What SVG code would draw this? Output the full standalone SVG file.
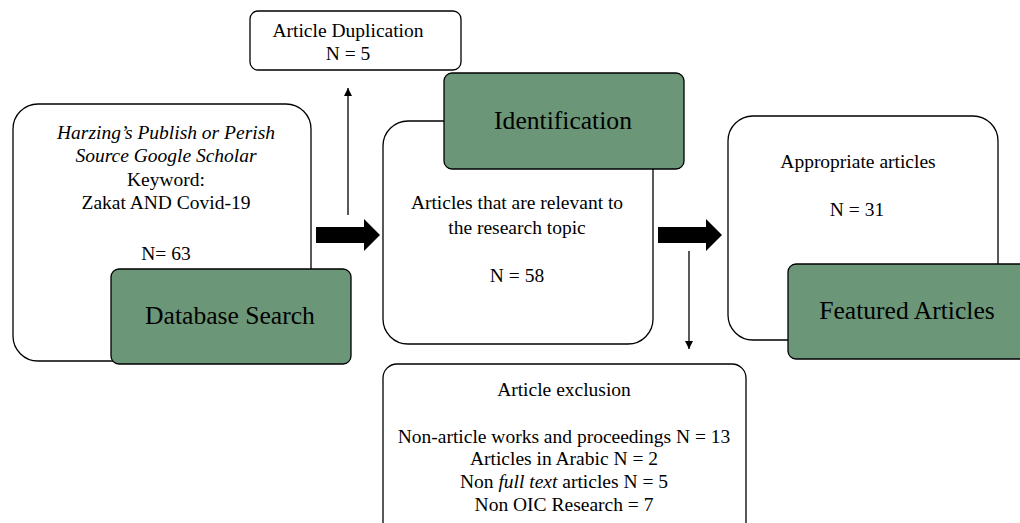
<svg xmlns="http://www.w3.org/2000/svg" width="1020" height="523" viewBox="0 0 1020 523">
<style>
.box{fill:#fff;stroke:#000;stroke-width:1.3}
.green{fill:#6b9677;stroke:#000;stroke-width:1.3}
text{font-family:"Liberation Serif","Times New Roman",serif;fill:#000;text-anchor:middle}
.t{font-size:19.5px}
.big{font-size:25.6px}
.thin{stroke:#000;stroke-width:1.3;fill:none}
</style>
<defs>
<marker id="ah" viewBox="0 0 10 10" refX="10" refY="5" markerWidth="8" markerHeight="8" markerUnits="userSpaceOnUse" orient="auto">
<path d="M0,0 L10,5 L0,10 z" fill="#000"/>
</marker>
</defs>
<g id="connectors">
<line class="thin" x1="348" y1="215" x2="348" y2="88" marker-end="url(#ah)"/>
<line class="thin" x1="689" y1="251" x2="689" y2="349" marker-end="url(#ah)"/>
<path d="M316,227 L364,227 L364,219 L380,235 L364,251 L364,243 L316,243 z" fill="#000"/>
<path d="M658,227 L706,227 L706,219 L722,235 L706,251 L706,243 L658,243 z" fill="#000"/>
</g>
<g id="duplication">
<rect class="box" x="250" y="11" width="211" height="59" rx="8"/>
<text class="t" x="348" y="37">Article Duplication</text>
<text class="t" x="348" y="60">N = 5</text>
</g>
<g id="database">
<rect class="box" x="13" y="104" width="298" height="257" rx="25"/>
<text class="t" x="166" y="139" font-style="italic">Harzing’s Publish or Perish</text>
<text class="t" x="166" y="162" font-style="italic">Source Google Scholar</text>
<text class="t" x="166" y="186">Keyword:</text>
<text class="t" x="166" y="209">Zakat AND Covid-19</text>
<text class="t" x="166" y="260">N= 63</text>
<rect class="green" x="111" y="269" width="240" height="95" rx="8"/>
<text class="big" x="230" y="324">Database Search</text>
</g>
<g id="identification">
<rect class="box" x="383" y="121" width="270" height="223" rx="25"/>
<text class="t" x="517" y="209">Articles that are relevant to</text>
<text class="t" x="517" y="234">the research topic</text>
<text class="t" x="517" y="282">N = 58</text>
<rect class="green" x="444" y="73" width="240" height="96" rx="8"/>
<text class="big" x="563" y="129">Identification</text>
</g>
<g id="featured">
<rect class="box" x="728" y="116" width="270" height="224" rx="25"/>
<text class="t" x="858" y="168">Appropriate articles</text>
<text class="t" x="857" y="216">N = 31</text>
<rect class="green" x="788" y="264" width="240" height="95" rx="8"/>
<text class="big" x="907" y="319">Featured Articles</text>
</g>
<g id="exclusion">
<rect class="box" x="383" y="364" width="363" height="175" rx="14"/>
<text class="t" x="564" y="396">Article exclusion</text>
<text class="t" x="564" y="443">Non-article works and proceedings N = 13</text>
<text class="t" x="564" y="465">Articles in Arabic N = 2</text>
<text class="t" x="564" y="488">Non <tspan font-style="italic">full text</tspan> articles N = 5</text>
<text class="t" x="564" y="511">Non OIC Research = 7</text>
</g>
</svg>
